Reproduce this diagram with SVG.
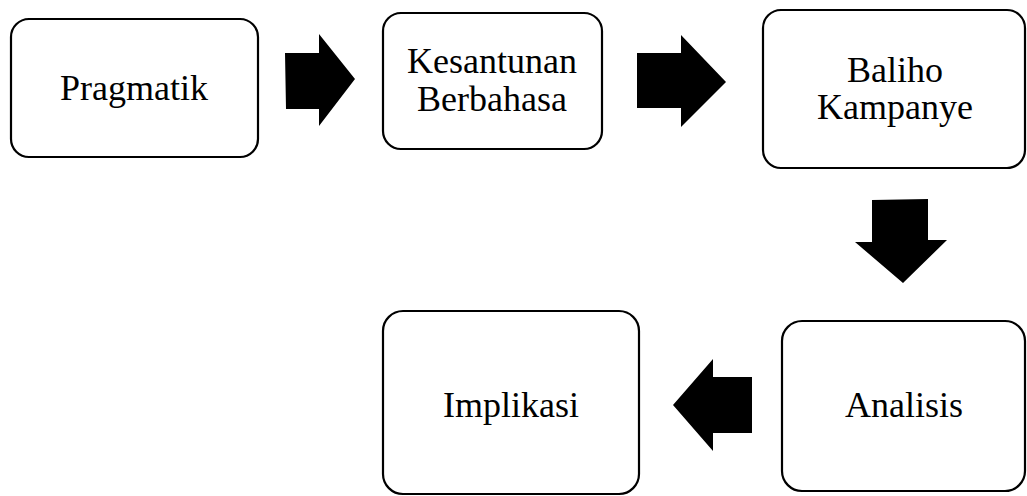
<svg xmlns="http://www.w3.org/2000/svg" width="1027" height="496" viewBox="0 0 1027 496">
<style>
.box{fill:#fff;stroke:#000;stroke-width:2.2}
.lbl{font-family:"Liberation Serif","Times New Roman",serif;font-size:36px;fill:#000;text-anchor:middle}
.arr{fill:#000;stroke:none}
</style>
<rect width="1027" height="496" fill="#fff"/>
<g id="pragmatik">
<rect class="box" x="11" y="19" width="247" height="138" rx="18"/>
<text class="lbl" x="134" y="100">Pragmatik</text>
</g>
<g id="kesantunan">
<rect class="box" x="383" y="13" width="219" height="136" rx="18"/>
<text class="lbl" x="492" y="73">Kesantunan</text>
<text class="lbl" x="492" y="111">Berbahasa</text>
</g>
<g id="baliho">
<rect class="box" x="763" y="10" width="262" height="158" rx="18"/>
<text class="lbl" x="895" y="82">Baliho</text>
<text class="lbl" x="895" y="119">Kampanye</text>
</g>
<g id="implikasi">
<rect class="box" x="383" y="311" width="256" height="183" rx="20"/>
<text class="lbl" x="511" y="417">Implikasi</text>
</g>
<g id="analisis">
<rect class="box" x="782" y="321" width="243" height="170" rx="20"/>
<text class="lbl" x="904" y="417">Analisis</text>
</g>
<g id="connectors">
<polygon class="arr" points="285,53 319,53 319,34 355,79 319,126 319,109 286,109"/>
<polygon class="arr" points="637,53 681,53 681,35 726,82 681,127 681,108 637,108"/>
<polygon class="arr" points="872,200 928,199 928,240 947,240 903,283 855,242 872,242"/>
<polygon class="arr" points="752,377 713,377 713,359 673,405 713,451 713,433 752,433"/>
</g>
</svg>
